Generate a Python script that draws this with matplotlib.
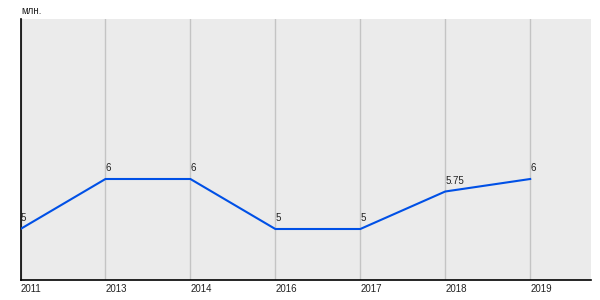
import matplotlib
matplotlib.use("Agg")
import matplotlib.pyplot as plt

years = ["2011", "2013", "2014", "2016", "2017", "2018", "2019"]
values = [5, 6, 6, 5, 5, 5.75, 6]
labels = ["5", "6", "6", "5", "5", "5.75", "6"]
unit = "млн."

plt.rcParams['font.family'] = ['Liberation Sans', 'DejaVu Sans']

fig = plt.figure(figsize=(6, 3), dpi=100)
ax = fig.add_axes([20.5/600, 20/300, 570/600, 261/300])
ax.set_facecolor('#ebebeb')
x = list(range(len(years)))
ax.plot(x, values, color='#0050e6', lw=1.5, solid_joinstyle='miter', zorder=3)
for xi, v, lab in zip(x, values, labels):
    ax.annotate(lab, (xi, v), xytext=(0, 4), textcoords='offset points',
                ha='left', va='bottom', fontsize=7, color='#222222')
ax.set_xlim(0, 6.71)
ax.set_ylim(3.98, 9.2)
ax.set_xticks(x)
ax.set_xticklabels(years, fontsize=7, ha='left', color='#222222')
ax.tick_params(axis='x', length=0, pad=3)
ax.set_yticks([])
ax.grid(axis='x', color='#c4c4c4', lw=1)
ax.set_axisbelow(True)
for s in ['top', 'right']:
    ax.spines[s].set_visible(False)
for s in ['left', 'bottom']:
    ax.spines[s].set_color('black')
    ax.spines[s].set_linewidth(1.2)
fig.text(21/600, 1 - 11/300, unit, fontsize=7, ha='left', va='center', color='#222222')
fig.savefig('out.png', dpi=100)
